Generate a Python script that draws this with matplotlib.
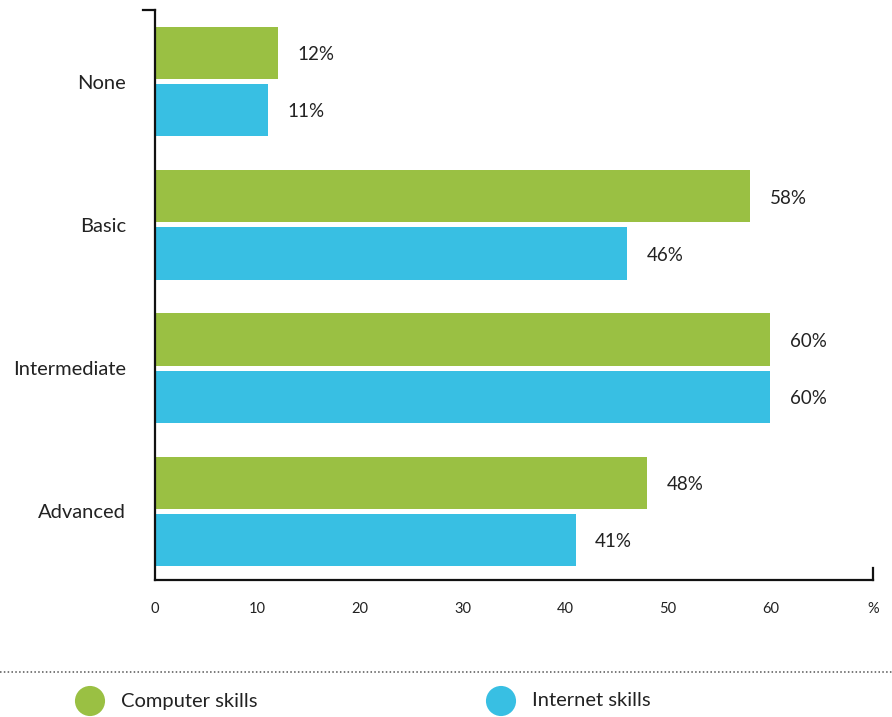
import matplotlib.pyplot as plt
import numpy as np

# Skill levels and shares (%) for the two skill types
levels = ["None", "Basic", "Intermediate", "Advanced"]
computer_skills = [12, 58, 60, 48]
internet_skills = [11, 46, 60, 41]
x_ticks = [0, 10, 20, 30, 40, 50, 60, 70]
x_tick_labels = ["0", "10", "20", "30", "40", "50", "60", "%"]

GREEN = "#9ac043"
BLUE = "#38bfe3"
TEXT = "#222222"

plt.rcParams["font.family"] = ["Lato", "DejaVu Sans"]

W, H = 892, 717
fig = plt.figure(figsize=(W / 100, H / 100), dpi=100)
ax = fig.add_axes([155 / W, 1 - 580 / H, (873 - 155) / W, (580 - 10) / H])

pos = np.arange(len(levels))
bar_h = 0.364
offset = 0.1995
ax.barh(pos - offset, computer_skills, height=bar_h, color=GREEN)
ax.barh(pos + offset, internet_skills, height=bar_h, color=BLUE)

for p, c, i in zip(pos, computer_skills, internet_skills):
    ax.text(c + 1.9, p - offset + 0.012, f"{c}%", va="center", ha="left",
            fontsize=13.5, color=TEXT)
    ax.text(i + 1.9, p + offset + 0.012, f"{i}%", va="center", ha="left",
            fontsize=13.5, color=TEXT)

ax.set_xlim(0, 70)
ax.set_ylim(3.479, -0.5)
ax.set_xticks(x_ticks)
ax.set_xticklabels(x_tick_labels, fontsize=10.5, color=TEXT)
ax.set_yticks(pos)
ax.set_yticklabels(levels, fontsize=14.5, color=TEXT)
ax.tick_params(axis="both", length=0)
ax.tick_params(axis="x", pad=16)
ax.tick_params(axis="y", pad=21)

for s in ["top", "right"]:
    ax.spines[s].set_visible(False)
for s in ["left", "bottom"]:
    ax.spines[s].set_linewidth(1.6)
    ax.spines[s].set_color("#111111")

# small end caps on the axis lines
ax.plot([-12 / 718, 0], [1, 1], transform=ax.transAxes, color="#111111",
        lw=1.6, clip_on=False, solid_capstyle="projecting")
ax.plot([1, 1], [0, 12 / 570], transform=ax.transAxes, color="#111111",
        lw=1.6, clip_on=False, solid_capstyle="projecting")

# legend strip drawn in pixel coordinates
leg = fig.add_axes([0, 0, 1, 1], zorder=-1)
leg.set_xlim(0, W)
leg.set_ylim(H, 0)
leg.axis("off")
leg.plot([0, W], [672, 672], color="#555555", lw=1.1, linestyle=(0, (1, 1.5)))
leg.scatter([90, 501], [701, 701], s=470, color=[GREEN, BLUE], linewidths=0)
leg.text(121, 701, "Computer skills", fontsize=14.5, color=TEXT, va="center")
leg.text(532, 701, "Internet skills", fontsize=14.5, color=TEXT, va="center")

fig.savefig("out.png", dpi=100)
